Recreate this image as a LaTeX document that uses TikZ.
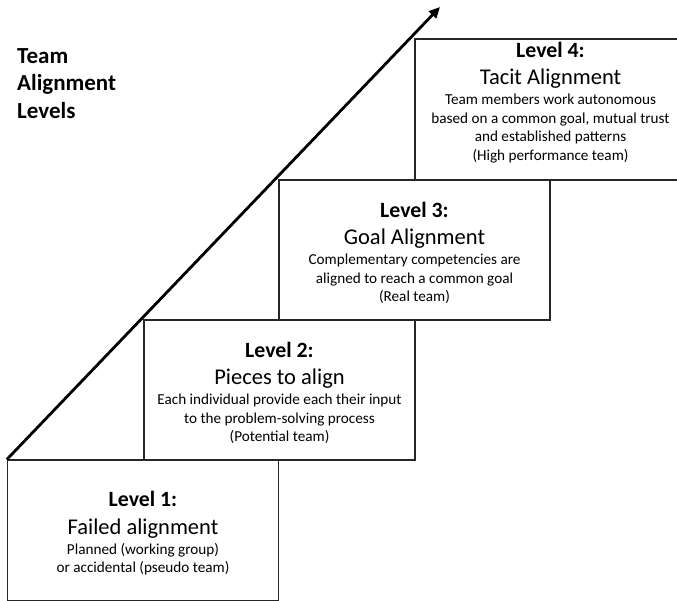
\documentclass[tikz,border=0pt]{standalone}
\usepackage{fontspec}
\setmainfont{Carlito}
\usetikzlibrary{arrows.meta}
\tikzset{
  levelbox/.style={draw=black!85, line width=1.2pt, minimum width=271pt, minimum height=140pt, inner sep=0pt},
  leveltext/.style={align=center, inner sep=0pt, font=\fontsize{15.2}{18.5}\selectfont},
  growth/.style={line width=2.8pt, -{Triangle[length=11pt, width=10pt]}},
  heading/.style={anchor=north west, align=left, inner sep=0pt, font=\fontsize{23}{27.5}\selectfont\bfseries}
}
\newcommand{\lvl}[1]{{\fontsize{21.8}{21.8}\selectfont\bfseries #1}\\[9pt]}
\newcommand{\lvlname}[1]{{\fontsize{22.5}{22.5}\selectfont #1}\\[1.5pt]}
\begin{document}
\begin{tikzpicture}[x=1pt, y=-1pt]
  \clip (0,0) rectangle (677,600);
  % staircase of levels
  \node[levelbox, minimum height=141pt] (b1) at (143, 530.5) {};
  \node[levelbox] (b2) at (279.5, 390) {};
  \node[levelbox] (b3) at (414.5, 250) {};
  \node[levelbox, minimum height=141pt] (b4) at (550.5, 109.5) {};
  % growth arrow along the stair corners
  \coordinate (tip) at (440, 7);
  \draw[growth] (b1.north west) -- (tip);
  % texts
  \node[heading] (title) at (17, 48) {Team\\Alignment\\Levels};
  \node[leveltext, yshift=-3pt] (t1) at (b1.center)
    {\lvl{Level 1:}\lvlname{Failed alignment}Planned (working group)\\or accidental (pseudo team)};
  \node[leveltext, yshift=-3pt] (t2) at (b2.center)
    {\lvl{Level 2:}\lvlname{Pieces to align}Each individual provide each their input\\to the problem-solving process\\(Potential team)};
  \node[leveltext, yshift=-3pt] (t3) at (b3.center)
    {\lvl{Level 3:}\lvlname{Goal Alignment}Complementary competencies are\\aligned to reach a common goal\\(Real team)};
  \node[leveltext, yshift=7pt] (t4) at (b4.center)
    {\lvl{Level 4:}\lvlname{Tacit Alignment}Team members work autonomous\\based on a common goal, mutual trust\\and established patterns\\(High performance team)};
\end{tikzpicture}
\end{document}
